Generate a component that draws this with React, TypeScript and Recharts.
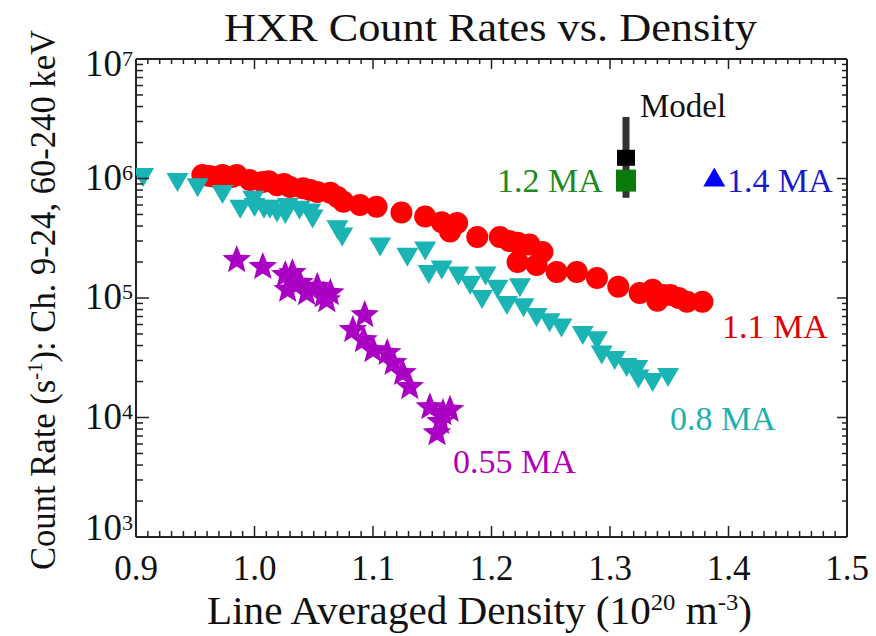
import { ScatterChart, Scatter, XAxis, YAxis, ErrorBar } from "recharts";

const FONT = "'Liberation Serif', 'Times New Roman', Times, 'DejaVu Serif', serif";
const AXIS = "#222";

// 1.1 MA shots (red circles)
const ma11: [number, number][] = [
  [0.956, 1.07e6], [0.962, 1.05e6], [0.967, 1.03e6], [0.973, 1.07e6], [0.981, 1.03e6],
  [0.985, 1.07e6], [0.996, 9.7e5], [1.007, 9.35e5], [1.012, 9.5e5], [1.019, 8.8e5],
  [1.025, 9.0e5], [1.03, 8.5e5], [1.041, 8.3e5], [1.047, 8.0e5], [1.053, 7.7e5],
  [1.064, 7.6e5], [1.07, 7.0e5], [1.075, 6.4e5], [1.089, 6.0e5], [1.103, 5.8e5],
  [1.124, 5.2e5], [1.144, 4.8e5], [1.158, 4.3e5], [1.171, 4.25e5], [1.165, 3.6e5],
  [1.188, 3.24e5], [1.207, 3.24e5], [1.215, 3.0e5], [1.222, 2.9e5], [1.232, 2.8e5],
  [1.243, 2.43e5], [1.222, 2.0e5], [1.238, 1.89e5], [1.255, 1.65e5], [1.272, 1.65e5],
  [1.289, 1.47e5], [1.307, 1.24e5], [1.325, 1.1e5], [1.336, 1.17e5], [1.345, 1.06e5],
  [1.351, 1.06e5], [1.34, 9.5e4], [1.358, 1.0e5], [1.365, 9.3e4], [1.378, 9.3e4],
];

// 0.8 MA shots (cyan down triangles)
const ma08: [number, number][] = [
  [0.906, 1.07e6], [0.935, 9.7e5], [0.952, 8.8e5], [0.973, 7.7e5], [0.988, 5.8e5],
  [0.999, 6.9e5], [1.0, 6.0e5], [1.008, 5.8e5], [1.013, 5.8e5], [1.019, 5.4e5],
  [1.026, 5.25e5], [1.028, 6.0e5], [1.038, 5.7e5], [1.047, 5.4e5], [1.049, 4.8e5],
  [1.07, 3.9e5], [1.074, 3.4e5], [1.106, 2.8e5], [1.129, 2.3e5], [1.144, 2.6e5],
  [1.147, 1.65e5], [1.158, 1.8e5], [1.172, 1.6e5], [1.182, 1.34e5], [1.195, 1.6e5],
  [1.192, 1.02e5], [1.205, 1.24e5], [1.213, 9.1e4], [1.224, 1.28e5], [1.227, 8.7e4],
  [1.238, 7.2e4], [1.249, 6.5e4], [1.259, 5.9e4], [1.277, 5.1e4], [1.289, 4.6e4],
  [1.293, 3.5e4], [1.304, 3.15e4], [1.314, 2.75e4], [1.323, 2.65e4], [1.324, 2.2e4],
  [1.336, 2.06e4], [1.349, 2.27e4],
];

// 0.55 MA shots (magenta stars)
const ma055: [number, number][] = [
  [0.985, 2.08e5], [1.007, 1.82e5], [1.026, 1.56e5], [1.032, 1.62e5], [1.028, 1.17e5],
  [1.038, 1.34e5], [1.044, 1.1e5], [1.053, 1.24e5], [1.058, 1.05e5], [1.061, 9.6e4],
  [1.064, 1.1e5], [1.093, 7.2e4], [1.083, 5.4e4], [1.092, 4.45e4], [1.1, 3.67e4],
  [1.112, 3.47e4], [1.117, 2.86e4], [1.125, 2.36e4], [1.131, 1.8e4], [1.148, 1.22e4],
  [1.159, 1.09e4], [1.165, 1.16e4], [1.157, 9.2e3], [1.154, 7.4e3],
];

const ma12: [number, number][] = [[1.3135, 9.6e5]];
const ma14: [number, number][] = [[1.388, 1.0e6]];
const model: [number, number][] = [[1.3135, 1.49e6]];
const modelErr: [number, number][] = [[8.0e5, 1.78e6]];

const xMajor = [0.9, 1.0, 1.1, 1.2, 1.3, 1.4, 1.5];
const xTickLabels = ["0.9", "1.0", "1.1", "1.2", "1.3", "1.4", "1.5"];
const yMajor = [1e3, 1e4, 1e5, 1e6, 1e7];
const yExponents = ["3", "4", "5", "6", "7"];

const seriesLabels = [
  { text: "1.1 MA", x: 1.3945, y: 4.63e4, anchor: "start" },
  { text: "0.8 MA", x: 1.3506, y: 7.86e3, anchor: "start" },
  { text: "0.55 MA", x: 1.1675, y: 3.43e3, anchor: "start" },
  { text: "1.2 MA", x: 1.294, y: 7.7e5, anchor: "end" },
  { text: "1.4 MA", x: 1.3987, y: 7.7e5, anchor: "start" },
  { text: "Model", x: 1.3253, y: 3.27e6, anchor: "start" },
];

const labelColors: Record<string, string> = {
  "1.1 MA": "#e00000",
  "0.8 MA": "#1eb0b0",
  "0.55 MA": "#b000b8",
  "1.2 MA": "#1e8a1e",
  "1.4 MA": "#1a1acc",
  Model: "#111",
};

const PLOT_TOP = 59;
const PLOT_BOTTOM = 537;

const xTicks = Array.from({ length: 61 }, (_, i) => Math.round((0.9 + i * 0.01) * 100) / 100);
const yTicks: number[] = [];
for (let d = 3; d < 7; d++) for (let m = 1; m < 10; m++) yTicks.push(m * Math.pow(10, d));
yTicks.push(1e7);

const toPts = (arr: [number, number][]) => arr.map(([x, y]) => ({ x, y }));
const xIdx = (v: number) => xMajor.findIndex((m) => Math.abs(m - v) < 1e-6);
const yIdx = (v: number) => yMajor.findIndex((m) => Math.abs(Math.log10(m) - Math.log10(v)) < 1e-6);

const txt = { fontFamily: FONT };

function BottomTick({ x, y, payload }: any) {
  const i = xIdx(payload.value);
  return (
    <g>
      <line x1={x} x2={x} y1={y} y2={y - (i >= 0 ? 11 : 6)} stroke={AXIS} strokeWidth={1.5} />
      {i >= 0 && (
        <text x={x} y={y + 43} textAnchor="middle" fontSize={35} fill="#111" style={txt}>
          {xTickLabels[i]}
        </text>
      )}
    </g>
  );
}

function TopTick({ x, y, payload }: any) {
  const major = xIdx(payload.value) >= 0;
  return <line x1={x} x2={x} y1={y} y2={y + (major ? 10 : 5)} stroke={AXIS} strokeWidth={1.5} />;
}

function LeftTick({ x, y, payload }: any) {
  const i = yIdx(payload.value);
  const base = Math.min(Math.max(y + 11, PLOT_TOP + 17), PLOT_BOTTOM + 3);
  return (
    <g>
      <line x1={x} x2={x + (i >= 0 ? 13 : 7)} y1={y} y2={y} stroke={AXIS} strokeWidth={1.5} />
      {i >= 0 && (
        <text x={x - 3} y={base} textAnchor="end" fontSize={37} fill="#111" style={txt}>
          10
          <tspan dy={-10} fontSize={22}>
            {yExponents[i]}
          </tspan>
        </text>
      )}
    </g>
  );
}

function RightTick({ x, y, payload }: any) {
  const major = yIdx(payload.value) >= 0;
  return <line x1={x} x2={x - (major ? 10 : 5)} y1={y} y2={y} stroke={AXIS} strokeWidth={1.5} />;
}

const Circle = ({ cx, cy }: any) => <circle cx={cx} cy={cy} r={11} fill="#ff0000" />;
const DownTri = ({ cx, cy }: any) => (
  <polygon points={`${cx - 11},${cy - 7} ${cx + 11},${cy - 7} ${cx},${cy + 12}`} fill="#1bb4b4" />
);
const UpTri = ({ cx, cy }: any) => (
  <polygon points={`${cx - 11},${cy + 8} ${cx + 11},${cy + 8} ${cx},${cy - 11}`} fill="#0000ff" />
);
const Star = ({ cx, cy }: any) => {
  const pts: string[] = [];
  for (let k = 0; k < 10; k++) {
    const r = k % 2 === 0 ? 15 : 6.5;
    const a = -Math.PI / 2 + (k * Math.PI) / 5;
    pts.push(`${cx + r * Math.cos(a)},${cy + r * Math.sin(a)}`);
  }
  return <polygon points={pts.join(" ")} fill="#aa00c4" />;
};
const GreenSq = ({ cx, cy }: any) => <rect x={cx - 10} y={cy - 11} width={20} height={22} fill="#0a7a0a" />;
const BlackSq = ({ cx, cy }: any) => <rect x={cx - 9} y={cy - 8} width={18} height={16} fill="#000" />;
const LabelShape = ({ cx, cy, payload }: any) => (
  <text
    x={cx}
    y={cy}
    textAnchor={payload.anchor}
    fontSize={payload.text === "Model" ? 33 : 34}
    fill={labelColors[payload.text]}
    style={txt}
  >
    {payload.text}
  </text>
);

export default function App() {
  const modelData = model.map(([x, y], i) => ({ x, y, err: modelErr[i] }));
  return (
    <div
      style={{ position: "absolute", left: 0, top: 0, width: 876, height: 636, background: "#fff", fontFamily: FONT }}
    >
      <ScatterChart width={876} height={636} margin={{ top: 58, right: 28, bottom: 0, left: 0 }}>
        <XAxis
          xAxisId="b"
          type="number"
          dataKey="x"
          domain={[0.9, 1.5]}
          allowDataOverflow
          ticks={xTicks}
          interval={0}
          tick={BottomTick}
          tickLine={false}
          tickSize={0}
          tickMargin={0}
          height={99}
          axisLine={{ stroke: AXIS, strokeWidth: 2 }}
        />
        <XAxis
          xAxisId="t"
          orientation="top"
          type="number"
          dataKey="x"
          domain={[0.9, 1.5]}
          allowDataOverflow
          ticks={xTicks}
          interval={0}
          tick={TopTick}
          tickLine={false}
          tickSize={0}
          tickMargin={0}
          height={1}
          axisLine={{ stroke: AXIS, strokeWidth: 2 }}
        />
        <YAxis
          yAxisId="l"
          type="number"
          dataKey="y"
          scale="log"
          domain={[1e3, 1e7]}
          allowDataOverflow
          ticks={yTicks}
          interval={0}
          tick={LeftTick}
          tickLine={false}
          tickSize={0}
          tickMargin={0}
          width={136}
          axisLine={{ stroke: AXIS, strokeWidth: 2 }}
        />
        <YAxis
          yAxisId="r"
          orientation="right"
          type="number"
          dataKey="y"
          scale="log"
          domain={[1e3, 1e7]}
          allowDataOverflow
          ticks={yTicks}
          interval={0}
          tick={RightTick}
          tickLine={false}
          tickSize={0}
          tickMargin={0}
          width={1}
          axisLine={{ stroke: AXIS, strokeWidth: 2 }}
        />
        <Scatter xAxisId="b" yAxisId="l" data={toPts(ma11)} shape={Circle} isAnimationActive={false} />
        <Scatter xAxisId="b" yAxisId="l" data={toPts(ma08)} shape={DownTri} isAnimationActive={false} />
        <Scatter xAxisId="b" yAxisId="l" data={toPts(ma055)} shape={Star} isAnimationActive={false} />
        <Scatter xAxisId="b" yAxisId="l" data={modelData} shape={BlackSq} isAnimationActive={false}>
          <ErrorBar dataKey="err" direction="y" width={0} strokeWidth={7} stroke="#333" isAnimationActive={false} />
        </Scatter>
        <Scatter xAxisId="b" yAxisId="l" data={toPts(ma12)} shape={GreenSq} isAnimationActive={false} />
        <Scatter xAxisId="b" yAxisId="l" data={toPts(ma14)} shape={UpTri} isAnimationActive={false} />
        <Scatter xAxisId="b" yAxisId="l" data={seriesLabels} shape={LabelShape} isAnimationActive={false} />
      </ScatterChart>
      <svg
        width={876}
        height={636}
        style={{ position: "absolute", left: 0, top: 0, pointerEvents: "none", fontFamily: FONT }}
        fill="#111"
      >
        <text x={224} y={41} fontSize={40} textLength={533} lengthAdjust="spacingAndGlyphs" style={txt}>
          HXR Count Rates vs. Density
        </text>
        <text
          transform="rotate(-90)"
          x={-300}
          y={55}
          textAnchor="middle"
          fontSize={35}
          textLength={540}
          lengthAdjust="spacingAndGlyphs"
          style={txt}
        >
          Count Rate (s
          <tspan dy={-13} fontSize={21}>-1</tspan>
          <tspan dy={13}>): Ch. 9-24, 60-240 keV</tspan>
        </text>
        <text x={207} y={624} fontSize={40} textLength={545} lengthAdjust="spacingAndGlyphs" style={txt}>
          Line Averaged Density (10
          <tspan dy={-14} fontSize={24}>20</tspan>
          <tspan dy={14}> m</tspan>
          <tspan dy={-14} fontSize={24}>-3</tspan>
          <tspan dy={14}>)</tspan>
        </text>
      </svg>
    </div>
  );
}
